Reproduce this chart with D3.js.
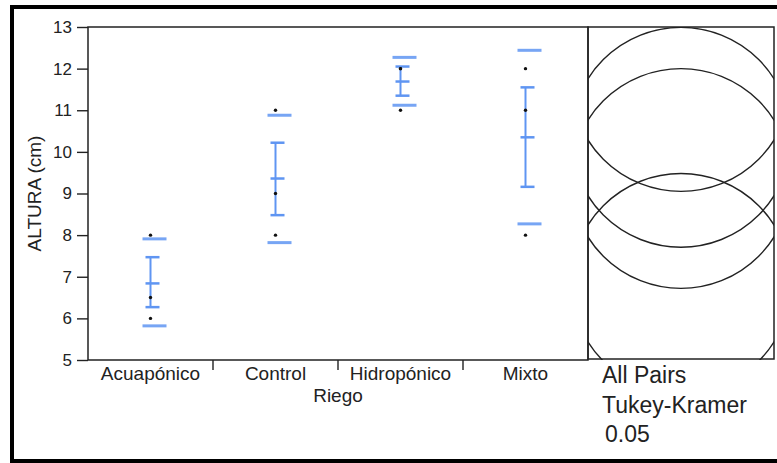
<!DOCTYPE html>
<html>
<head>
<meta charset="utf-8">
<script src="https://cdn.jsdelivr.net/npm/d3@7"></script>
<style>
  body { margin: 0; background: #fff; }
  svg { display: block; font-family: "Liberation Sans", Arial, sans-serif; }
</style>
</head>
<body>
<svg width="777" height="463"></svg>
<script>
// values
const groups = ["Acuapónico", "Control", "Hidropónico", "Mixto"];
const points = [[8, 6.5, 6], [11, 9, 8], [12, 12, 11], [12, 11, 8]];
const means = [6.84, 9.36, 11.69, 10.35];
const errLow = [6.27, 8.48, 11.35, 9.16];
const errHigh = [7.47, 10.22, 12.05, 11.55];
const sdLow = [5.82, 7.82, 11.12, 8.27];
const sdHigh = [7.91, 10.88, 12.27, 12.44];
const yTicks = [5, 6, 7, 8, 9, 10, 11, 12, 13];
const circleRadius = 2.64;
const notes = ["All Pairs", "Tukey-Kramer", "0.05"];

const svg = d3.select('svg');
const width = +svg.attr('width');
const height = +svg.attr('height');
const margin = { top: 27, right: 189, bottom: 103, left: 88 };
const panel = { left: 588, right: 774 };
const blue = "#5f95f2";

const yScale = d3.scaleLinear()
    .domain([5, 13])
    .range([height - margin.bottom, margin.top]);

const xScale = d3.scaleBand()
    .domain(groups)
    .range([margin.left, width - margin.right])
    .padding(0);

// outer frame
svg.append("rect")
    .attr("x", 12).attr("y", 7)
    .attr("width", width + 10).attr("height", 454)
    .attr("fill", "none").attr("stroke", "#000").attr("stroke-width", 4);

// y axis
const yAxis = g => g
    .attr("transform", `translate(${margin.left},0)`)
    .call(d3.axisLeft(yScale).tickValues(yTicks).tickSize(11).tickPadding(5))
    .call(g => g.select(".domain").remove())
    .call(g => g.selectAll(".tick line").attr("stroke", "#222").attr("stroke-width", 1.4))
    .call(g => g.selectAll(".tick text").attr("fill", "#222").attr("font-size", 17));

// x axis: labels at band centres, ticks at band edges
const xAxis = g => g
    .attr("transform", `translate(0,${yScale(5)})`)
    .call(d3.axisBottom(xScale).tickSize(0).tickPadding(7))
    .call(g => g.select(".domain").remove())
    .call(g => g.selectAll(".tick text").attr("fill", "#222").attr("font-size", 19));

svg.append('g').call(yAxis);
svg.append('g').call(xAxis);

svg.append("g")
    .selectAll("line")
    .data(groups.slice(1))
    .join("line")
        .attr("x1", d => xScale(d)).attr("x2", d => xScale(d))
        .attr("y1", yScale(5)).attr("y2", yScale(5) + 10)
        .attr("stroke", "#222").attr("stroke-width", 1.4);

// plot frame
svg.append("path")
    .attr("d", `M${margin.left},${yScale(5)}V${yScale(13)}H${panel.left}V${yScale(5)}Z`)
    .attr("fill", "none").attr("stroke", "#222").attr("stroke-width", 1.5);

svg.append("text")
    .attr("x", (margin.left + panel.left) / 2)
    .attr("y", 402)
    .attr("text-anchor", "middle")
    .attr("font-size", 19).attr("fill", "#222")
    .text("Riego");

svg.append("text")
    .attr("transform", `translate(41,${(yScale(5) + yScale(13)) / 2}) rotate(-90)`)
    .attr("text-anchor", "middle")
    .attr("font-size", 19).attr("fill", "#222")
    .text("ALTURA (cm)");

// error bars
const bars = svg.append("g")
    .selectAll("g")
    .data(groups)
    .join("g")
        .attr("transform", d => `translate(${xScale(d) + xScale.bandwidth() / 2},0)`);

bars.append("line")
    .attr("y1", (d, i) => yScale(errLow[i]))
    .attr("y2", (d, i) => yScale(errHigh[i]))
    .attr("stroke", blue).attr("stroke-width", 2);

[errLow, errHigh, means].forEach(arr => {
    bars.append("line")
        .attr("x1", -5).attr("x2", 9)
        .attr("y1", (d, i) => yScale(arr[i]))
        .attr("y2", (d, i) => yScale(arr[i]))
        .attr("stroke", blue).attr("stroke-width", 2.5);
});

[sdLow, sdHigh].forEach(arr => {
    bars.append("line")
        .attr("x1", -8).attr("x2", 16)
        .attr("y1", (d, i) => yScale(arr[i]))
        .attr("y2", (d, i) => yScale(arr[i]))
        .attr("stroke", blue).attr("stroke-opacity", 0.85).attr("stroke-width", 3);
});

bars.selectAll("circle")
    .data((d, i) => points[i])
    .join("circle")
        .attr("cx", 0)
        .attr("cy", d => yScale(d))
        .attr("r", 1.7)
        .attr("fill", "#111");

// comparison circles panel
svg.append("clipPath")
    .attr("id", "panel-clip")
    .append("rect")
        .attr("x", panel.left).attr("y", yScale(13))
        .attr("width", panel.right - panel.left)
        .attr("height", yScale(5) - yScale(13));

const rPx = yScale(5) - yScale(5 + circleRadius);

svg.append("g")
    .attr("clip-path", "url(#panel-clip)")
    .selectAll("circle")
    .data(means)
    .join("circle")
        .attr("cx", (panel.left + panel.right) / 2)
        .attr("cy", d => yScale(d))
        .attr("r", rPx)
        .attr("fill", "none")
        .attr("stroke", "#222")
        .attr("stroke-width", 1.4);

svg.append("rect")
    .attr("x", panel.left).attr("y", yScale(13))
    .attr("width", panel.right - panel.left)
    .attr("height", yScale(5) - yScale(13) - 1)
    .attr("fill", "none").attr("stroke", "#222").attr("stroke-width", 1.5);

svg.append("g")
    .selectAll("text")
    .data(notes)
    .join("text")
        .attr("x", (d, i) => i === 2 ? 605 : 602)
        .attr("y", (d, i) => 383 + i * 29.5)
        .attr("font-size", 23)
        .attr("fill", "#222")
        .text(d => d);
</script>
</body>
</html>
